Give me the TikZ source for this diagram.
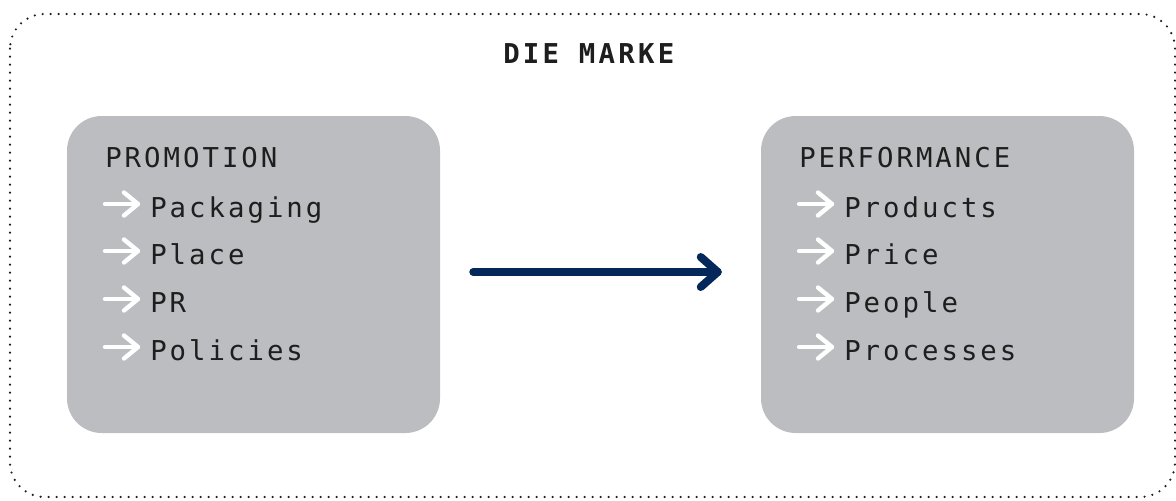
\documentclass[tikz,border=0pt]{standalone}
\usepackage{fontspec}
\newfontfamily\labelfont[LetterSpace=11]{DejaVu Sans Mono}
\newfontfamily\titlefont[LetterSpace=12]{DejaVu Sans Mono Bold}
\usetikzlibrary{calc}
\definecolor{boxgray}{RGB}{188,189,192}
\definecolor{navy}{RGB}{5,40,90}
\definecolor{ink}{RGB}{30,30,30}
\begin{document}
\begin{tikzpicture}[x=0.75pt,y=-0.75pt,
 panel/.style={fill=boxgray, draw=none, rounded corners=26pt, minimum width=279.75pt, minimum height=237.75pt, inner sep=0},
 lbl/.style={anchor=base west, inner sep=0, font=\labelfont\fontsize{20.5pt}{21pt}\selectfont, text=ink},
 ttl/.style={anchor=base west, inner sep=0, font=\titlefont\fontsize{20.5pt}{21pt}\selectfont, text=ink},
 whitearrow/.style={draw=white, line width=3.3pt, line cap=round, line join=round},
 mainarrow/.style={draw=navy, line width=6pt, line cap=round, line join=round},
 frame/.style={draw=ink, line width=1.8pt, line cap=round, dash pattern=on 0pt off 6pt, rounded corners=26pt}]
\useasboundingbox (0,0) rectangle (1176,500);
\draw[frame] (10,14) rectangle (1175,497);
\node[ttl] (title) at (503,63) {DIE MARKE};
\node[panel] (pl) at (253.5,274.5) {};
\node[panel] (pr) at (947.5,274.5) {};
% left panel
\node[lbl] (promo) at (105,167) {PROMOTION};
\node[lbl] (l1) at (150,217) {Packaging};
\node[lbl] (l2) at (150,264) {Place};
\node[lbl] (l3) at (150,312) {PR};
\node[lbl] (l4) at (150,360) {Policies};
% right panel
\node[lbl] (perf) at (799,167) {PERFORMANCE};
\node[lbl] (r1) at (844,217) {Products};
\node[lbl] (r2) at (844,264) {Price};
\node[lbl] (r3) at (844,312) {People};
\node[lbl] (r4) at (844,360) {Processes};
% white bullet arrows
\foreach \n in {l1,l2,l3,l4,r1,r2,r3,r4}{
  \coordinate (\n tip) at ($(\n.base west)+(-12,-13)$);
  \draw[whitearrow] ($(\n tip)+(-33,0)$) -- (\n tip);
  \draw[whitearrow] ($(\n tip)+(-14,-11.5)$) -- (\n tip) -- ($(\n tip)+(-14,11.5)$);
}
% main arrow
\coordinate (ms) at ($(pl.east)+(33,-2.5)$);
\coordinate (me) at ($(pr.west)+(-43,-2.5)$);
\draw[mainarrow] (ms) -- (me);
\draw[mainarrow] ($(me)+(-17,-15)$) -- (me) -- ($(me)+(-17,15)$);
\end{tikzpicture}
\end{document}
